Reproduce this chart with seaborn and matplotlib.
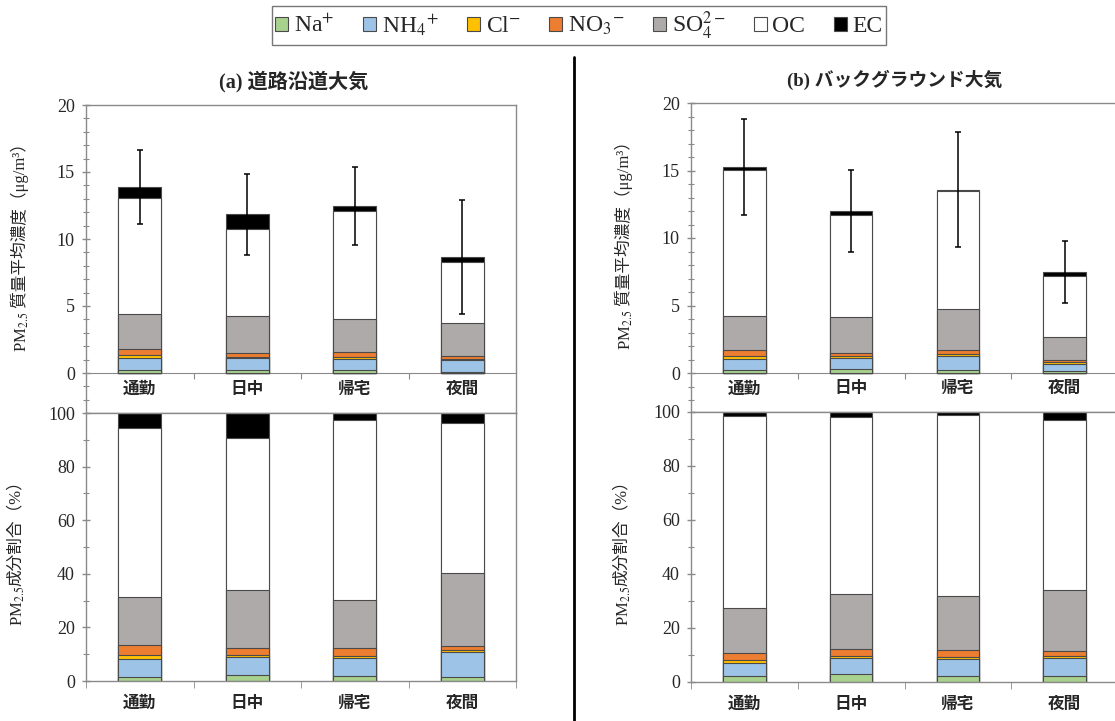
import numpy as np
import pandas as pd
import seaborn as sns
import matplotlib.pyplot as plt
from matplotlib.patches import Patch
from matplotlib.lines import Line2D
from matplotlib.ticker import MultipleLocator

sns.set_style("white")
plt.rcParams['font.family'] = ['Liberation Serif', 'Noto Sans CJK JP']
plt.rcParams['mathtext.fontset'] = 'stix'

periods = ['通勤', '日中', '帰宅', '夜間']
components = ['Na', 'NH4', 'Cl', 'NO3', 'SO4', 'OC', 'EC']
legend_labels = [r'Na$^{+}$', r'NH$_{4}$$^{+}$', r'Cl$^{-}$', r'NO$_{3}$$^{-}$',
                 r'SO$_{4}^{2-}$', 'OC', 'EC']
colors = ['#a9d18e', '#9dc3e6', '#ffc000', '#ed7d31', '#aeaaaa', '#ffffff', '#000000']

# (a) roadside, mass concentration (ug/m3)
road_na = [0.20, 0.25, 0.20, 0.10]
road_nh4 = [0.92, 0.85, 0.87, 0.90]
road_cl = [0.20, 0.10, 0.13, 0.07]
road_no3 = [0.47, 0.30, 0.34, 0.18]
road_so4 = [2.64, 2.73, 2.49, 2.49]
road_oc = [8.62, 6.48, 8.07, 4.58]
road_ec = [0.82, 1.12, 0.35, 0.35]
road_sd = [2.75, 3.05, 2.90, 4.26]

# (b) background, mass concentration (ug/m3)
bg_na = [0.25, 0.27, 0.25, 0.12]
bg_nh4 = [0.79, 0.84, 1.03, 0.57]
bg_cl = [0.19, 0.12, 0.15, 0.10]
bg_no3 = [0.45, 0.25, 0.25, 0.15]
bg_so4 = [2.52, 2.64, 3.06, 1.70]
bg_oc = [10.81, 7.61, 8.76, 4.57]
bg_ec = [0.25, 0.25, 0.08, 0.27]
bg_sd = [3.54, 3.04, 4.26, 2.31]

# (a) roadside, component share (%)
road_pct_na = [1.6, 2.1, 1.7, 1.5]
road_pct_nh4 = [6.7, 7.0, 6.7, 9.4]
road_pct_cl = [1.3, 0.6, 0.9, 0.5]
road_pct_no3 = [3.8, 2.8, 3.1, 1.6]
road_pct_so4 = [17.9, 21.4, 18.0, 27.4]
road_pct_oc = [63.0, 56.9, 67.1, 56.0]
road_pct_ec = [5.7, 9.2, 2.5, 3.6]

# (b) background, component share (%)
bg_pct_na = [2.1, 3.1, 2.1, 2.1]
bg_pct_nh4 = [4.9, 5.8, 6.4, 6.8]
bg_pct_cl = [1.25, 0.6, 0.7, 0.6]
bg_pct_no3 = [2.45, 2.7, 2.5, 2.1]
bg_pct_so4 = [16.6, 20.3, 20.0, 22.5]
bg_pct_oc = [71.2, 65.7, 67.2, 63.1]
bg_pct_ec = [1.5, 1.8, 1.1, 2.8]

W, H = 1115, 721
GRAY = '#8a8a8a'


def pos(l, t, r, b):
    return [l / W, 1 - b / H, (r - l) / W, (b - t) / H]


def stacked(ax, parts):
    df = pd.DataFrame(dict(zip(components, parts)), index=periods)
    cum = df.cumsum(axis=1)
    # draw tallest first, then overlay lower cumulative layers
    for comp, col in zip(components[::-1], colors[::-1]):
        sub = pd.DataFrame({'period': periods, 'value': cum[comp].values})
        sns.barplot(data=sub, x='period', y='value', order=periods, color=col,
                    saturation=1, width=0.4, edgecolor='#4a4a4a', linewidth=0.8,
                    errorbar=None, ax=ax)
    ax.set_xlabel('')
    ax.set_ylabel('')
    ax.set_xlim(-0.5, 3.5)
    for s in ax.spines.values():
        s.set_color(GRAY)
        s.set_linewidth(1)
        s.set_visible(True)
    return cum['EC'].values


def style_y(ax, major, minor):
    ax.yaxis.set_major_locator(MultipleLocator(major))
    ax.yaxis.set_minor_locator(MultipleLocator(minor))
    ax.tick_params(axis='y', which='major', direction='inout', length=6, width=1,
                   color=GRAY, labelsize=13, pad=5, left=True)
    ax.tick_params(axis='y', which='minor', direction='inout', length=4, width=0.8,
                   color=GRAY, left=True)


def top_panel(ax, parts, sd, ymin):
    total = stacked(ax, parts)
    ax.errorbar(np.arange(4), total, yerr=sd, fmt='none', ecolor='black',
                elinewidth=1.1, capsize=2, capthick=1.1, zorder=10)
    style_y(ax, 5, 1)
    ax.set_ylim(ymin, 20)
    ax.tick_params(axis='x', bottom=False, labelbottom=False)
    sec = ax.secondary_xaxis(-ymin / (20 - ymin))
    sec.set_xticks([0.5, 1.5, 2.5])
    sec.set_xticklabels([])
    sec.tick_params(direction='out', length=4, color=GRAY)
    sec.spines['bottom'].set_color(GRAY)
    for i, p in enumerate(periods):
        ax.text(i, ymin * 0.42, p, ha='center', va='center', fontsize=12,
                fontweight='bold')


def bottom_panel(ax, parts):
    stacked(ax, parts)
    ax.set_ylim(0, 100)
    style_y(ax, 20, 10)
    ax.set_xticks(range(4))
    ax.set_xticklabels(periods, fontsize=12, fontweight='bold')
    ax.set_xticks([-0.5, 0.5, 1.5, 2.5, 3.5], minor=True)
    ax.tick_params(axis='x', which='major', length=0, pad=11)
    ax.tick_params(axis='x', which='minor', direction='out', length=5,
                   color=GRAY, bottom=True)


def ylabel(x, y_bottom, rest):
    # "PM2.5" in mathtext, the Japanese rest as plain text stacked above it
    t1 = fig.text(x / W, 1 - y_bottom / H, r'PM$_{2.5}$', rotation=90,
                  ha='center', va='bottom', fontsize=12)
    fig.add_artist(plt.Annotation(rest, xy=(0.35, 1.0), xycoords=t1, rotation=90,
                                  ha='center', va='bottom', fontsize=12))


fig = plt.figure(figsize=(W / 100, H / 100), dpi=100)

ax1 = fig.add_axes(pos(86, 105, 516, 413))
top_panel(ax1, [road_na, road_nh4, road_cl, road_no3, road_so4, road_oc, road_ec],
          road_sd, -40 / 13.4)
ax2 = fig.add_axes(pos(86, 413, 516, 681))
bottom_panel(ax2, [road_pct_na, road_pct_nh4, road_pct_cl, road_pct_no3,
                   road_pct_so4, road_pct_oc, road_pct_ec])

ax3 = fig.add_axes(pos(691, 103, 1118, 412))
top_panel(ax3, [bg_na, bg_nh4, bg_cl, bg_no3, bg_so4, bg_oc, bg_ec],
          bg_sd, -39 / 13.5)
ax4 = fig.add_axes(pos(691, 412, 1118, 682))
bottom_panel(ax4, [bg_pct_na, bg_pct_nh4, bg_pct_cl, bg_pct_no3,
                   bg_pct_so4, bg_pct_oc, bg_pct_ec])

# titles
fig.text(294 / W, 1 - 82 / H, '(a) 道路沿道大気', ha='center', va='center',
         fontsize=14.5, fontweight='bold')
fig.text(895 / W, 1 - 80 / H, '(b) バックグラウンド大気', ha='center', va='center',
         fontsize=13.5, fontweight='bold')

# y labels
ylabel(22, 352, ' 質量平均濃度（μg/m³）')
ylabel(18, 626, '成分割合（%）')
ylabel(626, 350, ' 質量平均濃度（μg/m³）')
ylabel(624, 626, '成分割合（%）')

# divider
fig.add_artist(Line2D([574 / W, 574 / W], [1 - 57 / H, 0], color='black', lw=2))

# legend
handles = [Patch(facecolor=c, edgecolor='#4a4a4a', linewidth=0.8) for c in colors]
leg = fig.legend(handles, legend_labels, loc='center', ncol=7,
                 bbox_to_anchor=(579 / W, 1 - 25.5 / H), fontsize=17,
                 frameon=True, fancybox=False, edgecolor='#555555',
                 handlelength=0.55, handleheight=0.55, handletextpad=0.25,
                 columnspacing=1.2, borderpad=0.15)
leg.get_frame().set_linewidth(1)

fig.savefig('out.png', dpi=100)
